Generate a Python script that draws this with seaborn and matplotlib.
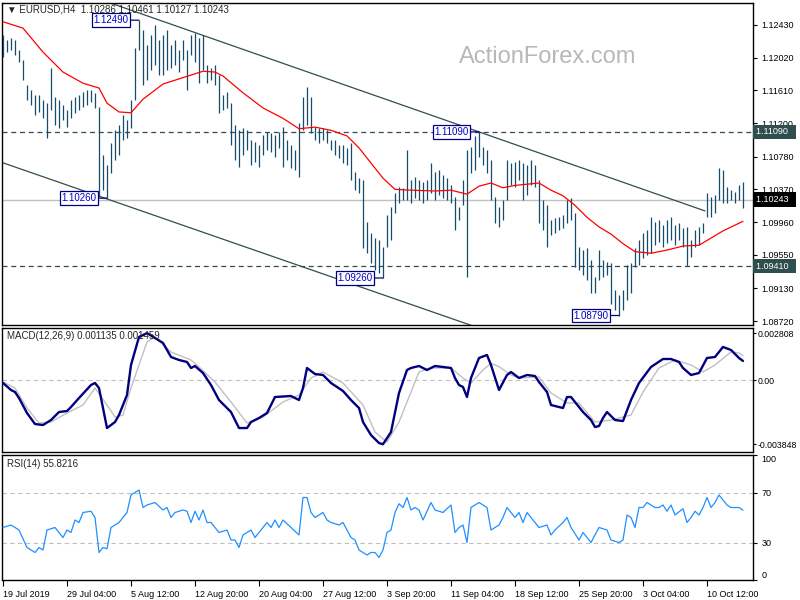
import matplotlib
matplotlib.use("Agg")
import matplotlib.pyplot as plt
import matplotlib.transforms as mtransforms
import seaborn as sns

# ---------------- data ----------------
highs = [
    1.1230, 1.1224, 1.1227, 1.1224, 1.1212, 1.1199, 1.1168, 1.1162, 1.1155, 1.1155,
    1.1149, 1.1145, 1.1189, 1.1153, 1.1149, 1.1143, 1.1136, 1.1149, 1.1153, 1.1155,
    1.1159, 1.1162, 1.1162, 1.1158, 1.1140, 1.1080, 1.1068, 1.1095, 1.1111, 1.1118,
    1.1130, 1.1124, 1.1149, 1.1214, 1.1249, 1.1237, 1.1218, 1.1230, 1.1243, 1.1224,
    1.1230, 1.1237, 1.1218, 1.1224, 1.1212, 1.1224, 1.1212, 1.1230, 1.1233, 1.1227,
    1.1230, 1.1193, 1.1189, 1.1193, 1.1180, 1.1155, 1.1159, 1.1145, 1.1118, 1.1111,
    1.1114, 1.1111, 1.1099, 1.1096, 1.1093, 1.1105, 1.1109, 1.1108, 1.1105, 1.1109,
    1.1115, 1.1099, 1.1093, 1.1086, 1.1120, 1.1153, 1.1165, 1.1153, 1.1115, 1.1114,
    1.1114, 1.1111, 1.1099, 1.1099, 1.1093, 1.1093, 1.1089, 1.1095, 1.1059, 1.1051,
    1.1049, 1.0996, 1.0982, 1.0976, 1.0974, 1.0965, 1.1005, 1.1015, 1.1032, 1.1040,
    1.1039, 1.1086, 1.1049, 1.1053, 1.1049, 1.1046, 1.1049, 1.1070, 1.1059, 1.1061,
    1.1055, 1.1051, 1.1042, 1.1027, 1.1015, 1.1049, 1.1086, 1.1090, 1.1104, 1.1109,
    1.1090, 1.1086, 1.1074, 1.1027, 1.1015, 1.1024, 1.1074, 1.1070, 1.1071, 1.1074,
    1.1070, 1.1068, 1.1074, 1.1068, 1.1049, 1.1024, 1.1017, 1.0999, 1.1001, 1.1002,
    1.1005, 1.1024, 1.1026, 1.1007, 1.0965, 1.0961, 1.0964, 1.0949, 1.0927, 1.0961,
    1.0949, 1.0946, 1.0945, 1.0911, 1.0905, 1.0911, 1.0942, 1.0945, 1.0964, 1.0974,
    1.0982, 1.0986, 1.1002, 1.0996, 1.0999, 1.0992, 1.0999, 1.1002, 1.0992, 1.0995,
    1.0989, 1.0990, 1.0974, 1.0986, 1.0990, 1.0995, 1.1032, 1.1027, 1.1030, 1.1064,
    1.1061, 1.1040, 1.1036, 1.1034, 1.1042, 1.1046]
lows = [
    1.1203, 1.1209, 1.1212, 1.1205, 1.1197, 1.1174, 1.1149, 1.1143, 1.1130, 1.1134,
    1.1126, 1.1101, 1.1136, 1.1118, 1.1114, 1.1124, 1.1115, 1.1126, 1.1133, 1.1136,
    1.1140, 1.1143, 1.1146, 1.1139, 1.1027, 1.1036, 1.1026, 1.1058, 1.1074, 1.1080,
    1.1099, 1.1101, 1.1114, 1.1149, 1.1212, 1.1168, 1.1174, 1.1187, 1.1193, 1.1180,
    1.1180, 1.1187, 1.1189, 1.1193, 1.1184, 1.1199, 1.1162, 1.1205, 1.1197, 1.1170,
    1.1187, 1.1170, 1.1174, 1.1168, 1.1133, 1.1136, 1.1139, 1.1093, 1.1074, 1.1065,
    1.1080, 1.1086, 1.1068, 1.1071, 1.1065, 1.1080, 1.1086, 1.1084, 1.1078, 1.1089,
    1.1065, 1.1074, 1.1064, 1.1061, 1.1053, 1.1111, 1.1118, 1.1108, 1.1099, 1.1095,
    1.1099, 1.1095, 1.1086, 1.1080, 1.1076, 1.1070, 1.1068, 1.1049, 1.1036, 1.1032,
    1.0964, 1.0957, 1.0945, 1.0936, 1.0932, 1.0926, 1.0965, 1.0974, 1.1007, 1.1020,
    1.1024, 1.1024, 1.1020, 1.1026, 1.1024, 1.1020, 1.1024, 1.1032, 1.1024, 1.1030,
    1.1026, 1.1024, 1.1020, 1.0986, 1.0999, 1.1017, 1.0927, 1.1058, 1.1061, 1.1078,
    1.1068, 1.1058, 1.1024, 1.0995, 1.0990, 1.0999, 1.1024, 1.1042, 1.1040, 1.1049,
    1.1024, 1.1030, 1.1042, 1.1040, 1.0995, 1.0986, 1.0965, 1.0980, 1.0982, 1.0986,
    1.0989, 1.0995, 1.0999, 1.0940, 1.0936, 1.0930, 1.0923, 1.0907, 1.0907, 1.0923,
    1.0927, 1.0930, 1.0894, 1.0886, 1.0879, 1.0886, 1.0898, 1.0907, 1.0940, 1.0942,
    1.0951, 1.0955, 1.0957, 1.0967, 1.0971, 1.0965, 1.0970, 1.0974, 1.0967, 1.0974,
    1.0965, 1.0941, 1.0952, 1.0965, 1.0967, 1.0982, 1.1002, 1.1002, 1.1007, 1.1024,
    1.1020, 1.1020, 1.1024, 1.1020, 1.1024, 1.1014]
bar_idx = list(range(len(highs)))

ma_idx = [0, 5, 10, 15, 20, 24, 26, 29, 32, 35,
          40, 45, 50, 53, 55, 60, 65, 70, 74, 78,
          82, 86, 89, 92, 95, 98, 102, 108, 112, 116,
          119, 122, 125, 128, 134, 137, 140, 143, 146, 149,
          152, 155, 158, 162, 166, 170, 174, 177, 180, 185]
ma_val = [1.1247, 1.1239, 1.1209, 1.1184, 1.1170, 1.1164, 1.1145, 1.1134, 1.1133, 1.1150,
          1.1169, 1.1177, 1.1185, 1.1184, 1.1179, 1.1158, 1.1139, 1.1126, 1.1113, 1.1115,
          1.1111, 1.1104, 1.1089, 1.1070, 1.1051, 1.1037, 1.1036, 1.1035, 1.1036, 1.1031,
          1.1041, 1.1045, 1.1039, 1.1042, 1.1045, 1.1036, 1.1029, 1.1017, 1.1002, 1.0990,
          1.0981, 1.0969, 1.0959, 1.0957, 1.0961, 1.0966, 1.0967, 1.0976, 1.0985, 1.0997]

chan_up_idx = [26, 175.5]
chan_up_val = [1.1272, 1.1010]
chan_lo_idx = [-1, 118]
chan_lo_val = [1.1072, 1.0865]

levels_dashed = [1.1109, 1.0941]
last_close = 1.10243

swing_idx = [34, 26, 95, 119, 154]
swing_val = [1.1249, 1.1026, 1.0926, 1.1109, 1.0879]
swing_txt = ["1.12490", "1.10260", "1.09260", "1.11090", "1.08790"]

price_ticks = [1.12430, 1.12020, 1.11610, 1.11200, 1.10780,
               1.10370, 1.09960, 1.09550, 1.09130, 1.08720]

macd_idx = [0, 2, 3, 4, 6, 8, 10, 12, 14, 16,
            17, 19, 22, 23, 24, 26, 28, 29, 31, 32,
            34, 36, 38, 40, 42, 44, 46, 47, 48, 50,
            52, 54, 57, 59, 61, 62, 64, 66, 68, 72,
            74, 75, 76, 78, 80, 82, 85, 87, 89, 90,
            92, 94, 95, 97, 99, 101, 102, 104, 106, 108,
            112, 113, 114, 115, 116, 117, 119, 121, 122, 124,
            126, 127, 129, 131, 133, 134, 136, 137, 140, 141,
            142, 145, 147, 148, 149, 150, 151, 153, 155, 157,
            159, 162, 165, 167, 169, 170, 172, 174, 176, 178,
            180, 182, 184, 185]
macd_val = [-0.00018, -0.00060, -0.00072, -0.00108, -0.00198, -0.00264, -0.00270, -0.00240, -0.00192, -0.00186,
            -0.00162, -0.00108, -0.00030, -0.00018, -0.00048, -0.00288, -0.00252, -0.00210, -0.00090, 0.00090,
            0.00258, 0.00281, 0.00252, 0.00222, 0.00138, 0.00120, 0.00108, 0.00072, 0.00084, 0.00042,
            -0.00030, -0.00120, -0.00192, -0.00288, -0.00288, -0.00252, -0.00228, -0.00198, -0.00102, -0.00096,
            -0.00120, -0.00048, 0.00072, 0.00036, 0.00030, -0.00018, -0.00066, -0.00120, -0.00168, -0.00252,
            -0.00330, -0.00378, -0.00385, -0.00312, -0.00078, 0.00060, 0.00072, 0.00084, 0.00060, 0.00084,
            0.00072, 0.00012, -0.00030, -0.00042, -0.00102, 0.00012, 0.00132, 0.00150, 0.00090, -0.00060,
            0.00030, 0.00048, 0.00012, 0.00030, 0.00024, -0.00012, -0.00072, -0.00150, -0.00168, -0.00102,
            -0.00102, -0.00192, -0.00240, -0.00282, -0.00276, -0.00228, -0.00192, -0.00240, -0.00246, -0.00120,
            -0.00018, 0.00078, 0.00126, 0.00126, 0.00108, 0.00072, 0.00030, 0.00042, 0.00132, 0.00138,
            0.00198, 0.00180, 0.00132, 0.00114]

sig_idx = [0, 3, 6, 9, 12, 16, 20, 23, 26, 28,
           30, 32, 36, 38, 42, 47, 49, 53, 57, 61,
           65, 70, 74, 77, 80, 85, 90, 93, 96, 99,
           102, 104, 107, 112, 115, 117, 120, 122, 124, 127,
           129, 134, 137, 141, 144, 148, 152, 157, 160, 164,
           168, 172, 175, 178, 182, 184, 185]
sig_val = [-0.00012, -0.00048, -0.00168, -0.00258, -0.00252, -0.00198, -0.00150, -0.00048, -0.00150, -0.00222,
           -0.00210, -0.00048, 0.00228, 0.00258, 0.00168, 0.00120, 0.00078, -0.00012, -0.00132, -0.00258,
           -0.00222, -0.00132, -0.00090, 0.00012, 0.00048, -0.00018, -0.00150, -0.00312, -0.00372, -0.00252,
           -0.00072, 0.00048, 0.00072, 0.00072, 0.00012, -0.00018, 0.00060, 0.00100, 0.00080, 0.00030,
           0.00012, 0.00018, -0.00078, -0.00138, -0.00138, -0.00252, -0.00240, -0.00210, -0.00072, 0.00072,
           0.00120, 0.00090, 0.00048, 0.00090, 0.00168, 0.00162, 0.00146]
macd_ticks = [0.002808, 0.0, -0.003848]
macd_ticklabels = ["0.002808", "0.00", "-0.003848"]

rsi_idx = [0, 2, 4, 6, 8, 9, 10, 11, 13, 15,
           16, 17, 18, 19, 20, 22, 23, 24, 25, 26,
           27, 29, 31, 32, 34, 35, 36, 38, 40, 41,
           42, 43, 45, 46, 47, 48, 49, 50, 51, 52,
           54, 56, 57, 58, 59, 60, 62, 63, 64, 66,
           67, 68, 69, 70, 72, 74, 75, 76, 77, 78,
           80, 81, 82, 84, 85, 86, 87, 88, 89, 91,
           92, 93, 94, 95, 96, 97, 98, 99, 100, 101,
           102, 103, 104, 105, 107, 108, 110, 112, 113, 114,
           115, 116, 117, 119, 121, 122, 124, 125, 126, 127,
           128, 129, 130, 131, 132, 134, 136, 137, 138, 140,
           141, 142, 144, 145, 146, 147, 149, 151, 152, 154,
           155, 156, 157, 158, 159, 160, 161, 163, 164, 165,
           166, 167, 168, 170, 171, 172, 173, 174, 175, 176,
           177, 178, 179, 181, 182, 183, 184, 185]
rsi_val = [42, 44, 40, 26, 22, 26, 24, 40, 42, 34,
           40, 38, 48, 46, 54, 55, 50, 22, 26, 25,
           42, 46, 54, 68, 72, 58, 60, 62, 56, 58,
           50, 54, 56, 55, 46, 55, 48, 56, 46, 46,
           38, 40, 32, 32, 26, 36, 40, 34, 38, 46,
           42, 48, 42, 48, 42, 36, 66, 66, 54, 50,
           54, 48, 46, 44, 46, 40, 34, 32, 24, 20,
           22, 22, 18, 24, 38, 40, 54, 61, 58, 66,
           56, 58, 56, 48, 62, 56, 54, 60, 38, 42,
           44, 30, 58, 62, 58, 40, 44, 50, 58, 54,
           50, 54, 46, 54, 50, 42, 44, 36, 40, 46,
           50, 42, 32, 38, 34, 30, 42, 40, 32, 30,
           32, 52, 50, 42, 58, 58, 62, 58, 58, 60,
           55, 60, 52, 57, 46, 50, 55, 52, 58, 66,
           58, 62, 68, 60, 58, 58, 58, 55.82]
rsi_levels = [70, 30]
rsi_ticks = [100, 70, 30, 0]

date_idx = [0, 16, 32, 48, 64, 80, 96, 112, 128, 144, 160, 176]
date_labels = ["19 Jul 2019", "29 Jul 04:00", "5 Aug 12:00", "12 Aug 20:00",
               "20 Aug 04:00", "27 Aug 12:00", "3 Sep 20:00", "11 Sep 04:00",
               "18 Sep 12:00", "25 Sep 20:00", "3 Oct 04:00", "10 Oct 12:00"]

title_main = "\u25BC EURUSD,H4  1.10286 1.10461 1.10127 1.10243"
title_macd = "MACD(12,26,9) 0.001135 0.001459"
title_rsi = "RSI(14) 55.8216"

# ---------------- style ----------------
sns.set_style("white")
plt.rcParams["font.family"] = ["Liberation Sans", "DejaVu Sans"]
plt.rcParams["axes.linewidth"] = 1.0

BAR = "#174a6b"
SLATE = "#2f4f4f"
SILVER = "#c0c0c0"
FS = 6.5

W, H = 800, 600
fig = plt.figure(figsize=(8, 6), dpi=100)
fig.patch.set_facecolor("white")


def rect(x0, y0, x1, y1):
    return [x0 / W, 1 - y1 / H, (x1 - x0) / W, (y1 - y0) / H]


ax1 = fig.add_axes(rect(2, 3, 753, 325))
ax2 = fig.add_axes(rect(2, 328, 753, 452))
ax3 = fig.add_axes(rect(2, 455, 753, 580))

XL = (-0.25, 187.5)
for ax in (ax1, ax2, ax3):
    ax.set_xlim(*XL)
    for s in ax.spines.values():
        s.set_color("black")
        s.set_linewidth(1.0)
    ax.yaxis.tick_right()
    ax.tick_params(axis="y", which="both", right=True, left=False, length=3,
                   width=0.8, pad=3, labelsize=FS, colors="black")

# ---------------- main price panel ----------------
ax1.set_ylim(1.08671, 1.12705)
ax1.axhline(last_close, color=SILVER, lw=1.0, zorder=1)
for lv in levels_dashed:
    ax1.axhline(lv, color=SLATE, lw=0.9, ls=(0, (4, 3)), zorder=1)
ax1.plot(chan_up_idx, chan_up_val, color=SLATE, lw=0.9, zorder=2)
ax1.plot(chan_lo_idx, chan_lo_val, color=SLATE, lw=0.9, zorder=2)
ax1.vlines(bar_idx, lows, highs, color=BAR, lw=0.9, zorder=3)
sns.lineplot(x=ma_idx, y=ma_val, ax=ax1, color="red", lw=0.9, zorder=4)

for i, p, t in zip(swing_idx, swing_val, swing_txt):
    ax1.annotate(t, xy=(i, p), xytext=(-7.5, 0), textcoords="offset points",
                 ha="right", va="center", fontsize=7, color="#0000c8",
                 bbox=dict(boxstyle="square,pad=0.18", fc="white", ec="#000080", lw=0.9),
                 arrowprops=dict(arrowstyle="-", color="#000080", lw=0.9,
                                 shrinkA=0, shrinkB=0), zorder=6)

ax1.set_yticks(price_ticks)
ax1.set_yticklabels([f"{v:.5f}" for v in price_ticks])
ax1.set_xticks([])
ax1.set_xlabel("")
ax1.set_ylabel("")

trans1 = mtransforms.blended_transform_factory(ax1.transAxes, ax1.transData)
tag_specs = [(levels_dashed[0], "1.11090", SLATE),
             (last_close, "1.10243", "black"),
             (levels_dashed[1], "1.09410", SLATE)]
for val, txt, col in tag_specs:
    ax1.text(1.004, val, txt + "  ", transform=trans1, ha="left", va="center",
             fontsize=FS, color="white", clip_on=False, zorder=10,
             bbox=dict(boxstyle="square,pad=0.3", fc=col, ec="none"))

fig.text(7 / W, 1 - 10 / H, title_main, fontsize=7, ha="left", va="center")
fig.text(548 / W, 1 - 57 / H, "ActionForex.com", fontsize=17, color="#b8b8b8",
         ha="center", va="center", family="Liberation Sans")

# ---------------- MACD ----------------
ax2.set_ylim(-0.004317, 0.003118)
ax2.axhline(0, color=SILVER, lw=0.8, ls=(0, (4, 3)), zorder=1)
sns.lineplot(x=sig_idx, y=sig_val, ax=ax2, color=SILVER, lw=1.0, zorder=2)
sns.lineplot(x=macd_idx, y=macd_val, ax=ax2, color="#000080", lw=1.7, zorder=3)
ax2.set_yticks(macd_ticks)
ax2.set_yticklabels(macd_ticklabels)
ax2.tick_params(axis="y", length=2, pad=1.5, labelsize=6.3)
ax2.set_xticks([])
ax2.set_xlabel("")
ax2.set_ylabel("")
fig.text(7 / W, 1 - 336 / H, title_macd, fontsize=7, ha="left", va="center")

# ---------------- RSI ----------------
ax3.set_ylim(0, 100)
for lv in rsi_levels:
    ax3.axhline(lv, color=SILVER, lw=0.8, ls=(0, (4, 3)), zorder=1)
sns.lineplot(x=rsi_idx, y=rsi_val, ax=ax3, color="#1e90ff", lw=0.9, zorder=3)
ax3.set_yticks(rsi_ticks)
ax3.set_yticklabels([str(v) for v in rsi_ticks])
for lab, v in zip(ax3.get_yticklabels(), rsi_ticks):
    if v == 100:
        lab.set_va("top")
    elif v == 0:
        lab.set_va("bottom")
ax3.set_xticks(date_idx)
ax3.set_xticklabels(date_labels, ha="left")
ax3.tick_params(axis="x", length=4, width=0.8, pad=3, labelsize=FS, direction="out",
                bottom=True, colors="black")
ax3.set_xlabel("")
ax3.set_ylabel("")
fig.text(7 / W, 1 - 464 / H, title_rsi, fontsize=7, ha="left", va="center")

fig.savefig("out.png", dpi=100, facecolor="white")
